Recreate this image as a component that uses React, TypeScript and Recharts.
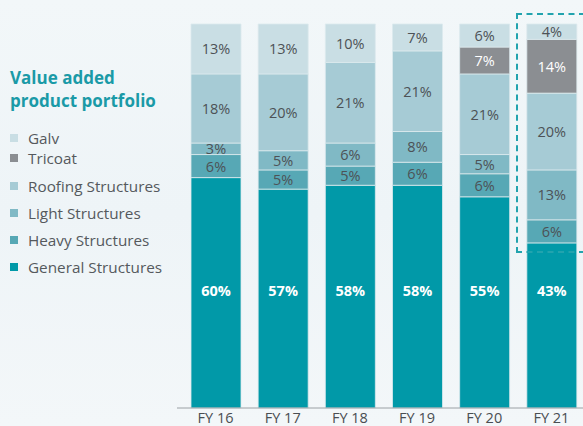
import React from "react";
import { BarChart, Bar, XAxis, YAxis, LabelList } from "recharts";

const categories = ["FY 16", "FY 17", "FY 18", "FY 19", "FY 20", "FY 21"];
const general = [60, 57, 58, 58, 55, 43];
const heavy = [6, 5, 5, 6, 6, 6];
const light = [3, 5, 6, 8, 5, 13];
const roofing = [18, 20, 21, 21, 21, 20];
const tricoat = [0, 0, 0, 0, 7, 14];
const galv = [13, 13, 10, 7, 6, 4];

const seriesDefs = [
  { key: "general", name: "General Structures", values: general, color: "#0199a8", text: "#ffffff", bold: true },
  { key: "heavy", name: "Heavy Structures", values: heavy, color: "#57a8b5", text: "#4d5256", bold: false },
  { key: "light", name: "Light Structures", values: light, color: "#80b9c5", text: "#4d5256", bold: false },
  { key: "roofing", name: "Roofing Structures", values: roofing, color: "#a6cbd5", text: "#4d5256", bold: false },
  { key: "tricoat", name: "Tricoat", values: tricoat, color: "#8b8e92", text: "#ffffff", bold: false },
  { key: "galv", name: "Galv", values: galv, color: "#c9dee4", text: "#4d5256", bold: false },
];

const data = categories.map((c, i) => {
  const row: any = { name: c };
  seriesDefs.forEach((s) => (row[s.key] = s.values[i]));
  return row;
});

const legendOrder = ["galv", "tricoat", "roofing", "light", "heavy", "general"];
const legendTops = [129, 149, 177, 204, 231, 258];

const FONT = "'Open Sans', 'Noto Sans', sans-serif";

function makeLabel(s: any) {
  return (props: any) => {
    const { x, y, width, height, value } = props;
    if (!value) return null;
    const cx = x + width / 2;
    let cy = y + height / 2;
    if (s.key === "general") cy = y + height - 118;
    return (
      <text
        x={cx}
        y={cy}
        textAnchor="middle"
        dominantBaseline="central"
        fill={s.text}
        fontSize={14.5}
        fontWeight={s.bold ? 700 : 400}
        fontFamily={FONT}
      >
        {`${value}%`}
      </text>
    );
  };
}

function Tick(props: any) {
  const { x, y, payload } = props;
  return (
    <text
      x={x}
      y={y + 13}
      textAnchor="middle"
      fill="#4a4e52"
      fontSize={14.5}
      fontFamily={FONT}
    >
      {payload.value}
    </text>
  );
}

export default function App() {
  return (
    <div
      style={{
        position: "absolute",
        left: 0,
        top: 0,
        width: 583,
        height: 426,
        overflow: "hidden",
        background: "linear-gradient(180deg, #f2f7f9 0%, #eef4f7 50%, #f3f7f9 100%)",
        fontFamily: FONT,
      }}
    >
      <div
        style={{
          position: "absolute",
          left: 10,
          top: 66,
          color: "#1a9aa7",
          fontWeight: 700,
          fontSize: 17,
          lineHeight: "23px",
        }}
      >
        Value added
        <br />
        product portfolio
      </div>
      {legendOrder.map((k, i) => {
        const s = seriesDefs.find((d) => d.key === k)!;
        return (
          <div
            key={k}
            style={{
              position: "absolute",
              left: 10,
              top: legendTops[i],
              height: 18,
              display: "flex",
              alignItems: "center",
              fontSize: 15.3,
              color: "#55595d",
              whiteSpace: "nowrap",
            }}
          >
            <span style={{ display: "inline-block", width: 8, height: 8, background: s.color, marginRight: 10 }} />
            {s.name}
          </div>
        );
      })}
      <div style={{ position: "absolute", left: 0, top: 0 }}>
        <BarChart
          width={600}
          height={440}
          data={data}
          margin={{ top: 24, right: 15, left: 177, bottom: 0 }}
        >
          <XAxis
            dataKey="name"
            height={32}
            padding={{ left: 5, right: 0 }}
            axisLine={{ stroke: "#9aa0a4" }}
            tickLine={false}
            tickSize={0}
            tick={<Tick />}
            interval={0}
          />
          <YAxis hide domain={[0, 100]} />
          {seriesDefs.map((s) => (
            <Bar
              key={s.key}
              dataKey={s.key}
              stackId="a"
              fill={s.color}
              stroke="#dceaee"
              strokeWidth={0.8}
              barSize={50}
              isAnimationActive={false}
            >
              <LabelList dataKey={s.key} content={makeLabel(s)} />
            </Bar>
          ))}
        </BarChart>
      </div>
      <div
        style={{
          position: "absolute",
          left: 516,
          top: 13,
          width: 90,
          height: 240,
          border: "2px dashed #22a3ae",
          boxSizing: "border-box",
        }}
      />
    </div>
  );
}
